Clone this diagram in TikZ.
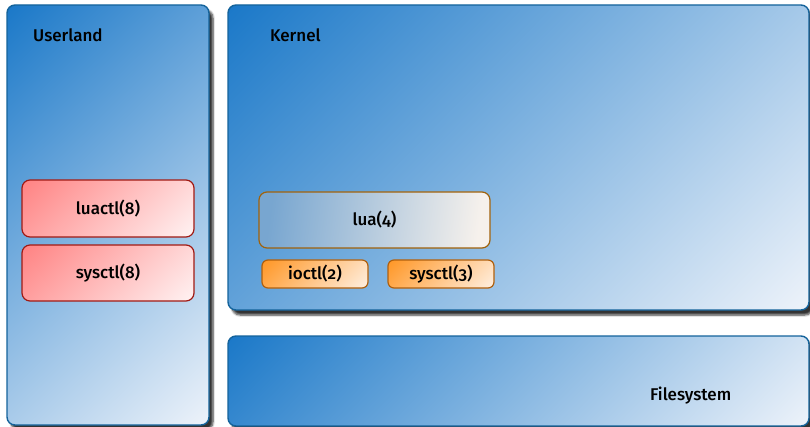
\documentclass[tikz,border=0pt]{standalone}
\usepackage{fontspec}
\setmainfont{Fira Sans}[UprightFont={* Medium},Numbers=OldStyle]
\usetikzlibrary{shadings,shadows.blur}

\definecolor{panelblue}{HTML}{1A78C8}
\definecolor{panelpale}{HTML}{EEF3FA}
\definecolor{panelline}{HTML}{14639B}
\definecolor{userred}{HTML}{FF8282}
\definecolor{userpale}{HTML}{FFF3F3}
\definecolor{userline}{HTML}{A01A14}
\definecolor{callorange}{HTML}{FF9624}
\definecolor{callpale}{HTML}{FFF0E2}
\definecolor{callline}{HTML}{B0600E}
\definecolor{luablue}{HTML}{78A6D0}
\definecolor{luamid}{HTML}{C6BEB5}
\definecolor{luapale}{HTML}{F6F1EC}
\definecolor{lualine}{HTML}{A0620C}

\begin{document}
\begin{tikzpicture}
	[
		x = 1pt, y = -1pt,
		every node/.append style = {font = \fontsize{17}{20}\selectfont, inner sep = 0pt},
		panel/.style 2 args = {draw = panelline, line width = 1.4pt, rounded corners = 8pt,
			upper left = panelblue, lower right = panelpale,
			upper right = panelblue!#1!panelpale, lower left = panelblue!#2!panelpale,
			blur shadow = {shadow xshift = 4pt, shadow yshift = -5pt, shadow blur steps = 6, shadow opacity = 80}},
		userbox/.style = {draw = userline, line width = 1.2pt, rounded corners = 8pt,
			upper left = userred, lower right = userpale,
			upper right = userred!25!userpale, lower left = userred!75!userpale},
		luabox/.style = {draw = lualine, line width = 1.2pt, rounded corners = 8pt,
			left color = luablue, middle color = luamid, right color = luapale, shading angle = 82},
		callbox/.style = {draw = callline, line width = 1.2pt, rounded corners = 6pt,
			upper left = callorange, lower right = callpale,
			upper right = callorange!21!callpale, lower left = callorange!79!callpale},
		heading/.style = {anchor = base west}]

	\useasboundingbox (0,0) rectangle (810,427);

	% layers
	\node[panel = {68}{32}, minimum width = 202pt, minimum height = 420pt] (user) at (108,215) {};
	\node[panel = {34}{66}, minimum width = 581pt, minimum height = 305pt] (kern) at (518.5,157.5) {};
	\node[panel = {13}{87}, minimum width = 581pt, minimum height = 90pt] (fs) at (518.5,381) {};

	\node[heading] (userlabel) at (33,42) {Userland};
	\node[heading] (kernlabel) at (270,42) {Kernel};
	\node[heading] (fslabel) at (650,400) {Filesystem};

	% userland tools
	\node[userbox, minimum width = 172pt, minimum height = 57pt] (luactl) at (108,208.5) {luactl(8)};
	\node[userbox, minimum width = 172pt, minimum height = 56pt] (usysctl) at (108,273) {sysctl(8)};

	% kernel parts
	\node[luabox, minimum width = 231pt, minimum height = 56pt] (lua) at (374.5,220) {lua(4)};
	\node[callbox, minimum width = 106pt, minimum height = 28pt] (ioctl) at (315,274) {ioctl(2)};
	\node[callbox, minimum width = 106pt, minimum height = 28pt] (ksysctl) at (441,274) {sysctl(3)};
\end{tikzpicture}
\end{document}
